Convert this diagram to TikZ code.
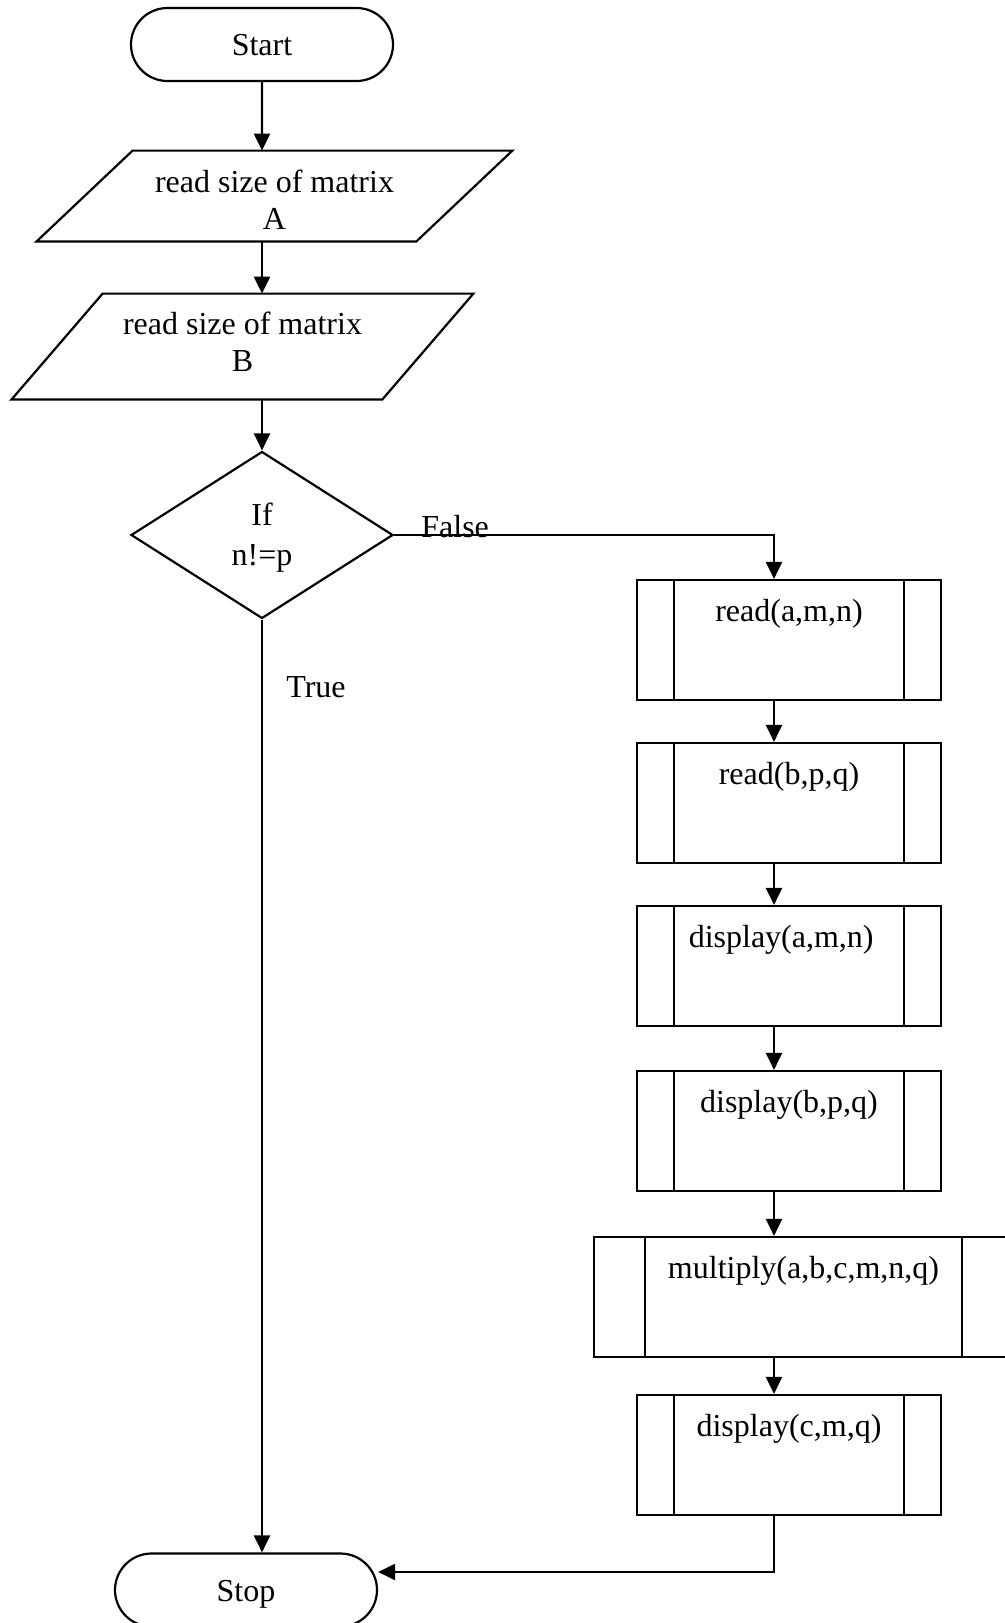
\documentclass[tikz,border=0pt]{standalone}
\usepackage{fontspec}
\setmainfont{Liberation Serif}
\usetikzlibrary{shapes.misc,shapes.geometric,arrows.meta}

\tikzset{
  stroke/.style={line width=1.1pt, draw=black},
  arr/.style={stroke, -{Triangle[length=8.5pt,width=8pt]}},
  txt/.style={font=\fontsize{16}{18.5}\selectfont, align=center},
  terminal/.style={stroke, txt, rounded rectangle, inner sep=0pt,
    minimum width=131pt, minimum height=36.5pt},
  iobox/.style={rectangle, inner sep=0pt},
  decision/.style={stroke, diamond, inner sep=0pt},
  proc/.style={stroke, txt, rectangle, inner sep=0pt,
    text height=20.5pt, text depth=39.5pt,
    path picture={
      \draw[line width=1.1pt]
        ([xshift=#1]path picture bounding box.north west) --
        ([xshift=#1]path picture bounding box.south west)
        ([xshift=-#1]path picture bounding box.north east) --
        ([xshift=-#1]path picture bounding box.south east);
    }},
  edge label/.style={font=\fontsize{16}{18.5}\selectfont, inner sep=0pt}
}

\begin{document}
\begin{tikzpicture}[x=0.5pt,y=-0.5pt]
  \useasboundingbox (0,0) rectangle (1005,1623);
  \fill[white] (0,0) rectangle (1005,1623);
  \clip (0,0) rectangle (1005,1623);

  % left column
  \node[terminal, text height=11.2pt, text depth=0pt] (start) at (262,44.5) {Start};

  \node[iobox, minimum width=237.5pt, minimum height=45pt,
        label={[txt, yshift=-2pt]center:{read size of matrix\\A}}] (parA) at (274.5,196) {};
  \draw[stroke] ([xshift=48pt]parA.north west) -- (parA.north east)
    -- ([xshift=-48pt]parA.south east) -- (parA.south west) -- cycle;

  \node[iobox, minimum width=230.5pt, minimum height=52.5pt,
        label={[txt, yshift=2.6pt]center:{read size of matrix\\B}}] (parB) at (242.5,346.5) {};
  \draw[stroke] ([xshift=45.5pt]parB.north west) -- (parB.north east)
    -- ([xshift=-45.5pt]parB.south east) -- (parB.south west) -- cycle;

  \node[decision, minimum width=131pt, minimum height=83.5pt,
        label={[font=\fontsize{16}{20}\selectfont, align=center, yshift=-1.2pt]center:{If\\n!=p}}]
        (dec) at (262,535) {};

  \node[terminal, text height=13pt, text depth=2pt] (stop) at (246,1590) {Stop};

  % right column of sub-procedures
  \node[proc=18.5pt, minimum width=152pt, minimum height=60pt] (readA) at (789,640) {read(a,m,n)};
  \node[proc=18.5pt, minimum width=152pt, minimum height=60pt] (readB) at (789,803) {read(b,p,q)};
  \node[proc=18.5pt, minimum width=152pt, minimum height=60pt] (dispA) at (789,966) {display(a,m,n)\hspace*{7.8pt}};
  \node[proc=18.5pt, minimum width=152pt, minimum height=60pt] (dispB) at (789,1131) {display(b,p,q)};
  \node[proc=25.5pt, minimum width=209.5pt, minimum height=60pt] (mult) at (803.5,1297) {multiply(a,b,c,m,n,q)};
  \node[proc=18.5pt, minimum width=152pt, minimum height=60pt] (dispC) at (789,1455) {display(c,m,q)};

  \coordinate (fx) at (774,535);
  \coordinate (turn) at (774,1572);

  % connectors
  \draw[arr] (start) -- (start.south |- parA.north);
  \draw[arr] (start.south |- parA.south) -- (start.south |- parB.north);
  \draw[arr] (start.south |- parB.south) -- (dec.north);

  \draw[arr] (dec.east) -- (fx) -- (fx |- readA.north);
  \draw[arr] (readA.south -| fx) -- (readB.north -| fx);
  \draw[arr] (readB.south -| fx) -- (dispA.north -| fx);
  \draw[arr] (dispA.south -| fx) -- (dispB.north -| fx);
  \draw[arr] (dispB.south -| fx) -- (mult.north -| fx);
  \draw[arr] (mult.south -| fx) -- (dispC.north -| fx);
  \draw[arr] (dispC.south -| turn) -- (turn) -- (turn -| stop.east);

  \draw[arr] (dec.south) -- (dec.south |- stop.north);

  % branch labels
  \node[edge label, anchor=base west] (lfalse) at (421,537) {False};
  \node[edge label, anchor=base west] (ltrue) at (286,697) {True};
\end{tikzpicture}
\end{document}
